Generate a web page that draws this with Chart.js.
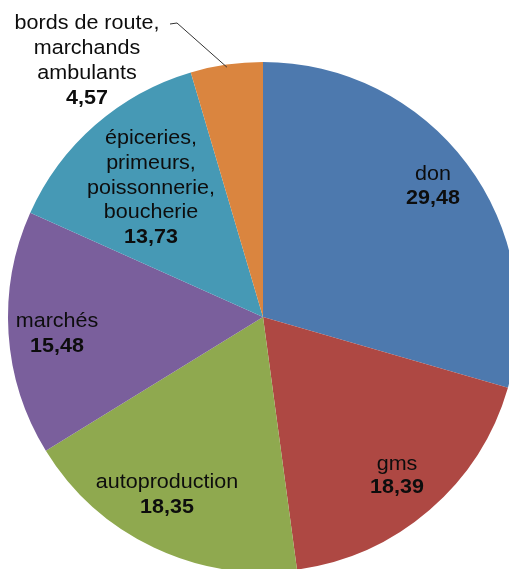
<!DOCTYPE html>
<html>
<head>
<meta charset="utf-8">
<script src="https://cdn.jsdelivr.net/npm/chart.js@4.4.0/dist/chart.umd.min.js"></script>
<style>
html,body{margin:0;padding:0;background:#fff;overflow:hidden;width:509px;height:569px;}
#wrap{position:absolute;left:0;top:0;width:530px;height:580px;}
</style>
</head>
<body>
<div id="wrap"><canvas id="c"></canvas></div>
<script>
// Data
const categories = ["don", "gms", "autoproduction", "marchés", "épiceries, primeurs, poissonnerie, boucherie", "bords de route, marchands ambulants"];
const values = [29.48, 18.39, 18.35, 15.48, 13.73, 4.57];
const valueLabels = ["29,48", "18,39", "18,35", "15,48", "13,73", "4,57"];
const nameLines = [["don"], ["gms"], ["autoproduction"], ["marchés"], ["épiceries,", "primeurs,", "poissonnerie,", "boucherie"], ["bords de route,", "marchands", "ambulants"]];
const colors = ["#4D79AE", "#AE4843", "#8FA94F", "#7A5F9C", "#4699B5", "#DA853F"];

// Label layout (text anchor centre x, first baseline y, line step)
const labelLayout = [
  {x: 433, y: 180, step: 24},
  {x: 397, y: 470, step: 23},
  {x: 167, y: 488, step: 25},
  {x: 57,  y: 327, step: 25},
  {x: 151, y: 144, step: 24.8},
  {x: 87,  y: 29,  step: 25}
];

const labelPlugin = {
  id: 'sliceLabels',
  afterDatasetsDraw(chart) {
    const ctx = chart.ctx;
    ctx.save();
    ctx.textAlign = 'center';
    ctx.textBaseline = 'alphabetic';
    ctx.fillStyle = '#0d0d0d';
    const sx = 1.05;
    const draw = (t, x, y) => {
      ctx.save();
      ctx.translate(x, y);
      ctx.scale(sx, 1);
      ctx.fillText(t, 0, 0);
      ctx.restore();
    };
    labelLayout.forEach((l, i) => {
      const lines = nameLines[i];
      ctx.font = '20.5px "Liberation Sans", Arial, sans-serif';
      lines.forEach((t, k) => draw(t, l.x, l.y + k * l.step));
      ctx.font = 'bold 20.5px "Liberation Sans", Arial, sans-serif';
      draw(valueLabels[i], l.x, l.y + lines.length * l.step);
    });
    // leader line for small slice
    const arc = chart.getDatasetMeta(0).data[5];
    const mid = (arc.startAngle + arc.endAngle) / 2;
    const ex = arc.x + Math.cos(mid) * arc.outerRadius * 0.99;
    const ey = arc.y + Math.sin(mid) * arc.outerRadius * 0.99;
    ctx.strokeStyle = '#333';
    ctx.lineWidth = 1;
    ctx.beginPath();
    ctx.moveTo(170, 24);
    ctx.lineTo(177, 23);
    ctx.lineTo(ex, ey);
    ctx.stroke();
    ctx.restore();
  }
};

new Chart(document.getElementById('c'), {
  type: 'pie',
  data: {
    labels: categories,
    datasets: [{
      data: values,
      backgroundColor: colors,
      borderWidth: 0
    }]
  },
  options: {
    responsive: true,
    maintainAspectRatio: false,
    animation: false,
    layout: {padding: {left: 8, top: 62, right: 12, bottom: 8}},
    plugins: {legend: {display: false}, tooltip: {enabled: false}}
  },
  plugins: [labelPlugin]
});
</script>
</body>
</html>
